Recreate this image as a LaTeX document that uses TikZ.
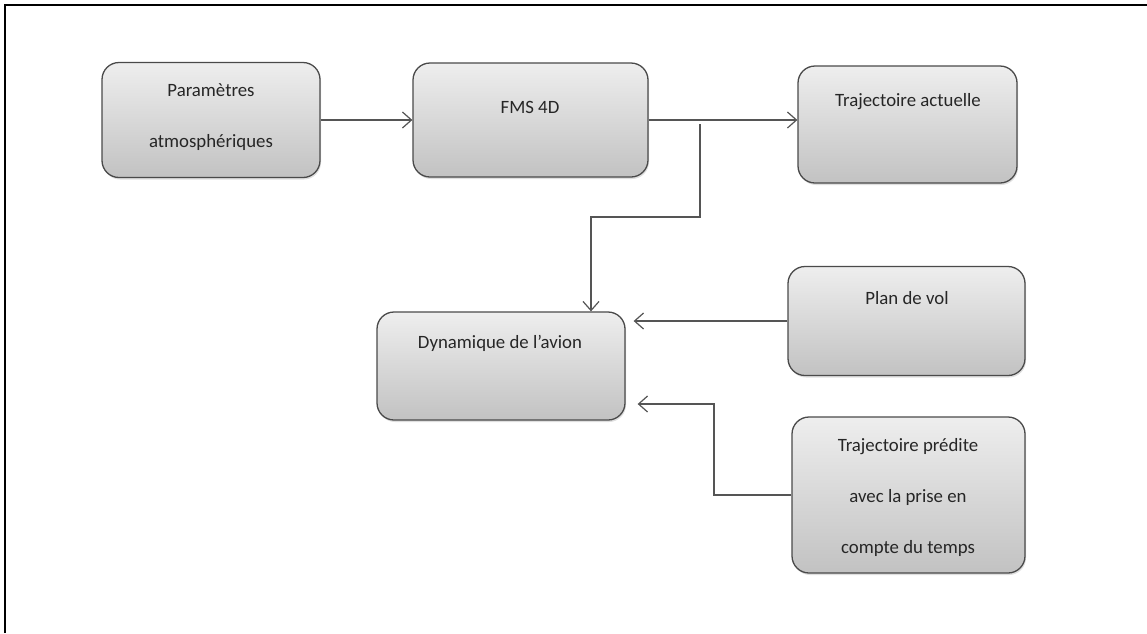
\documentclass[tikz,border=0pt]{standalone}
\usepackage{fontspec}
\setmainfont{Carlito}
\usetikzlibrary{arrows.meta,shadows}
\definecolor{boxtop}{HTML}{EEEEEE}
\definecolor{boxbot}{HTML}{C2C2C2}
\definecolor{boxline}{HTML}{4A4A4A}
\definecolor{wire}{HTML}{555555}
\definecolor{ink}{HTML}{262626}
\begin{document}
\begin{tikzpicture}[x=1pt,y=-1pt,
  box/.style={draw=boxline, line width=1.3pt, rounded corners=17pt,
    top color=boxtop, bottom color=boxbot, inner sep=0pt,
    drop shadow={opacity=0.25, shadow xshift=1pt, shadow yshift=-2pt}},
  txt/.style={text=ink, align=center, inner sep=0pt,
    font=\fontsize{18.8}{51}\selectfont},
  wirestyle/.style={draw=wire, line width=1.3pt},
  arr/.style={wirestyle, -{Straight Barb[length=9pt,width=16pt,line width=1.2pt]}}]
\useasboundingbox (0,0) rectangle (1147,633);
% frame (top and left edges)
\draw[line width=2pt] (5,633) -- (5,5) -- (1147,5);

% boxes
\node[box, minimum width=218pt, minimum height=115pt] (param) at (211,120) {};
\node[box, minimum width=235pt, minimum height=114pt] (fms)   at (530.5,120) {};
\node[box, minimum width=219pt, minimum height=117pt] (traj)  at (907.5,124.5) {};
\node[box, minimum width=248pt, minimum height=108pt] (dyn)   at (501,366) {};
\node[box, minimum width=237pt, minimum height=109pt] (plan)  at (906.5,321) {};
\node[box, minimum width=233pt, minimum height=156pt] (pred)  at (908.5,495) {};

% labels
\node[txt] (paramT) at (211,117) {Paramètres\\atmosphériques};
\node[txt] (fmsT)   at (530,107) {FMS 4D};
\node[txt] (trajT)  at (908,102) {Trajectoire actuelle};
\node[txt] (dynT)   at (500,343) {Dynamique de l’avion};
\node[txt] (planT)  at (907,298) {Plan de vol};
\node[txt] (predT)  at (908,497) {Trajectoire prédite\\avec la prise en\\compte du temps};

% connectors
\draw[arr] (param.east) -- (param.east -| fms.west);
\draw[arr] (fms.east) -- (fms.east -| traj.west);
\coordinate (split) at (700,124);
\coordinate (bend) at (591,217);
\draw[arr] (split) |- (bend) -- (bend |- dyn.north);
\draw[arr, shorten >=8pt] (plan.west) -- (plan.west -| dyn.east);
\coordinate (corner) at (714,404);
\draw[arr, shorten >=12pt] (pred.west) -| (corner) -- (corner -| dyn.east);
\end{tikzpicture}
\end{document}
